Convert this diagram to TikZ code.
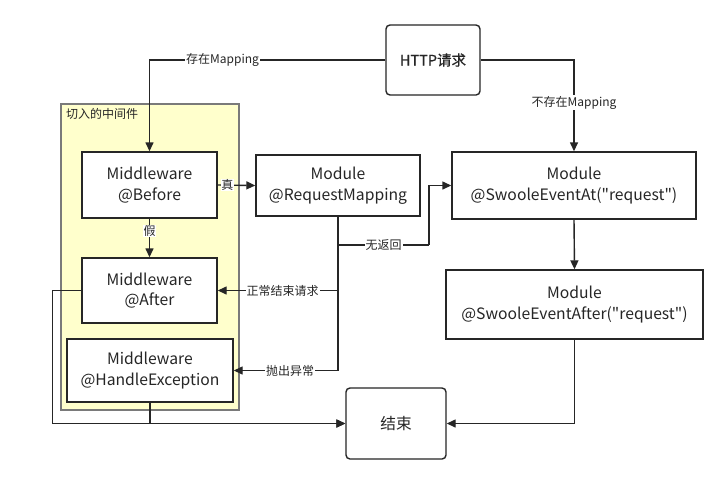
\documentclass[tikz,border=0pt]{standalone}
\usepackage{fontspec}
\setmainfont{Noto Sans CJK SC}[Ligatures=TeXOff]
\newfontfamily\medfont{Noto Sans CJK SC}[Ligatures=TeXOff,FakeBold=0.6]
\usetikzlibrary{arrows.meta,positioning}
\definecolor{ink}{HTML}{262626}
\definecolor{yel}{HTML}{FFFFCC}
\definecolor{yedge}{HTML}{7A7A7A}
\tikzset{
  x=1pt,y=-1pt,
  box/.style={draw=ink,line width=1.4pt,fill=white,inner sep=0pt,align=center,text=ink,font=\fontsize{15.7}{20.5}\selectfont},
  arr/.style={draw=ink,line width=1.4pt,-{Triangle[length=9pt,width=8pt]}},
  ln/.style={draw=ink,line width=1.4pt},
  lbl/.style={fill=white,inner sep=1pt,text=ink,font=\fontsize{12}{13}\selectfont},
}
\begin{document}
\begin{tikzpicture}
\useasboundingbox (0,0) rectangle (727,483);
\fill[white] (0,0) rectangle (727,483);
% group
\node[draw=yedge,fill=yel,line width=1.2pt,minimum width=178pt,minimum height=306pt,inner sep=0pt] (grp) at (150,257) {};
\node[anchor=north west,inner sep=0pt,text=ink,font=\fontsize{12}{13}\selectfont] (grplbl) at (66,108) {切入的中间件};
% nodes
\node[box,rounded corners=4pt,minimum width=94pt,minimum height=70pt,font=\fontsize{14.5}{19}\medfont] (http) at (433,60) {HTTP请求};
\node[box,minimum width=135pt,minimum height=66pt] (before) at (149.5,185) {Middleware\\@Before};
\node[box,minimum width=135pt,minimum height=65pt] (after) at (149.5,290.5) {Middleware\\@After};
\node[box,minimum width=166pt,minimum height=63pt] (handle) at (150,370.5) {Middleware\\@HandleException};
\node[box,minimum width=164pt,minimum height=61pt] (reqmap) at (338,185.5) {Module\\@RequestMapping};
\node[box,minimum width=244pt,minimum height=67pt] (swat) at (574,185.5) {Module\\@SwooleEventAt("request")};
\node[box,minimum width=257pt,minimum height=69pt] (swafter) at (574.5,304.5) {Module\\@SwooleEventAfter("request")};
\node[box,rounded corners=4pt,minimum width=100pt,minimum height=71pt] (end) at (396,423.5) {结束};
\coordinate (nr) at (429,245);
% connectors
\draw[arr] (http.west) -| (before.north) node[lbl,pos=0.345] {存在Mapping};
\draw[arr] (http.east) -| (swat.north) node[lbl,pos=0.735] {不存在Mapping};
\draw[arr] (before.east) -- (reqmap.west) node[lbl,pos=0.26,inner sep=0.5pt] {真};
\draw[arr] (before.south) -- (after.north) node[lbl,pos=0.33,inner sep=0.5pt] {假};
\draw[arr] (reqmap.south) |- (handle.east) node[lbl,pos=0.73] {抛出异常};
\draw[arr] (reqmap.south) |- (after.east) node[lbl,pos=0.73] {正常结束请求};
\draw[ln] (reqmap.south) |- (nr) node[lbl,pos=0.75] {无返回};
\draw[arr] (nr) |- (swat.west);
\draw[arr] (swat.south) -- (swafter.north);
\draw[arr] (swafter.south) |- (end.east);
\draw[arr] (after.west) -- ++(-29,0) |- (end.west);
\draw[arr] (handle.south) |- (end.west);
\end{tikzpicture}
\end{document}
